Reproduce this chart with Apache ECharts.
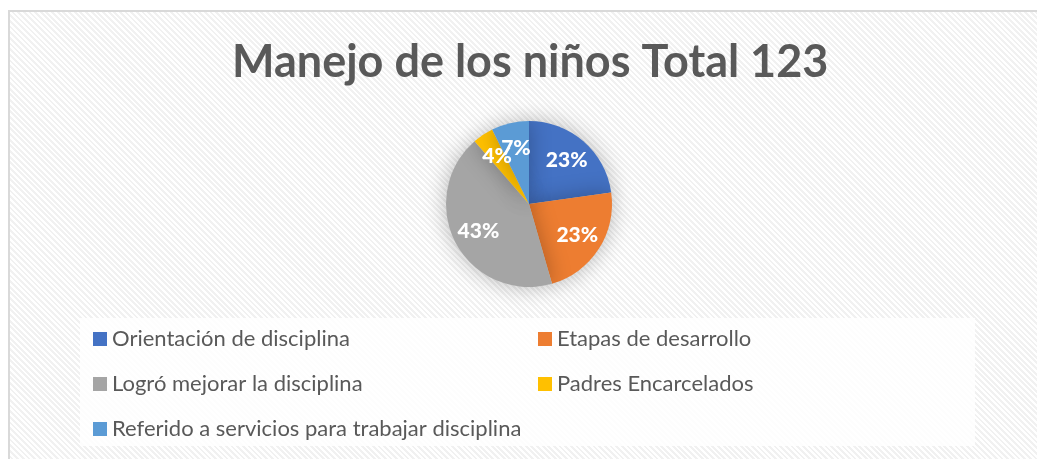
<!DOCTYPE html>
<html>
<head>
<meta charset="utf-8">
<script src="https://cdn.jsdelivr.net/npm/echarts@6/dist/echarts.min.js"></script>
<style>
  html, body { margin: 0; padding: 0; background: #fff; }
  #wrap { position: relative; width: 1037px; height: 459px; overflow: hidden; }
  #bg {
    position: absolute; left: 8px; top: 10px; width: 1040px; height: 460px;
    border-left: 2px solid #d9d9d9; border-top: 2px solid #d9d9d9;
    background: repeating-linear-gradient(45deg, #ffffff 0px, #ffffff 2px, #f1f1f1 2px, #f1f1f1 4px);
  }
  #main { position: absolute; left: 0; top: 0; width: 1037px; height: 459px; }
</style>
</head>
<body>
<div id="wrap">
  <div id="bg"></div>
  <div id="main"></div>
</div>
<script>
// datos
let categorias = ['Orientación de disciplina', 'Etapas de desarrollo', 'Logró mejorar la disciplina', 'Padres Encarcelados', 'Referido a servicios para trabajar disciplina'];
let valores = [28, 28, 53, 5, 9];
let colores = ['#4472C4', '#ED7D31', '#A5A5A5', '#FFC000', '#5B9BD5'];
let titulo = 'Manejo de los niños Total 123';

let datos = categorias.map(function (c, i) {
  return { name: c, value: valores[i], itemStyle: { color: colores[i] } };
});

let fuente = 'Lato';

option1 = {
  animation: false,
  backgroundColor: 'transparent',
  color: colores,
  title: {
    text: titulo,
    left: 227,
    top: 35,
    textStyle: { fontFamily: fuente, fontWeight: 'bold', fontSize: 45, color: '#595959' }
  },
  graphic: [{
    type: 'rect',
    z: -1,
    shape: { x: 80, y: 318, width: 895, height: 128 },
    style: { fill: 'rgba(255,255,255,0.85)' }
  }],
  legend: [{
    orient: 'vertical',
    left: 88,
    top: 323,
    data: [categorias[0], categorias[2], categorias[4]],
    itemWidth: 14, itemHeight: 14, itemGap: 23,
    icon: 'rect',
    textStyle: { fontFamily: fuente, fontSize: 22, color: '#595959' }
  }, {
    orient: 'vertical',
    left: 533,
    top: 323,
    data: [categorias[1], categorias[3]],
    itemWidth: 14, itemHeight: 14, itemGap: 23,
    icon: 'rect',
    textStyle: { fontFamily: fuente, fontSize: 22, color: '#595959' }
  }],
  series: [
    {
      type: 'pie',
      center: [529, 204],
      radius: [0, 83],
      startAngle: 90,
      clockwise: true,
      label: { show: false },
      labelLine: { show: false },
      itemStyle: { shadowBlur: 22, shadowColor: 'rgba(0,0,0,0.28)' },
      data: datos
    },
    {
      // solo etiquetas
      type: 'pie',
      center: [529, 204],
      radius: [26, 83],
      startAngle: 90,
      clockwise: true,
      silent: true,
      legendHoverLink: false,
      avoidLabelOverlap: false,
      itemStyle: { color: 'transparent' },
      label: {
        show: true,
        position: 'inside',
        formatter: function (p) { return Math.round(p.percent) + '%'; },
        fontFamily: fuente, fontWeight: 900, fontSize: 21, color: '#fff'
      },
      labelLayout: { hideOverlap: false },
      labelLine: { show: false },
      data: categorias.map(function (c, i) { return { name: c + ' ', value: valores[i] }; })
    }
  ]
};

var chartDom = document.getElementById('main');
var myChart = echarts.init(chartDom);
myChart.setOption(option1);
</script>
</body>
</html>
